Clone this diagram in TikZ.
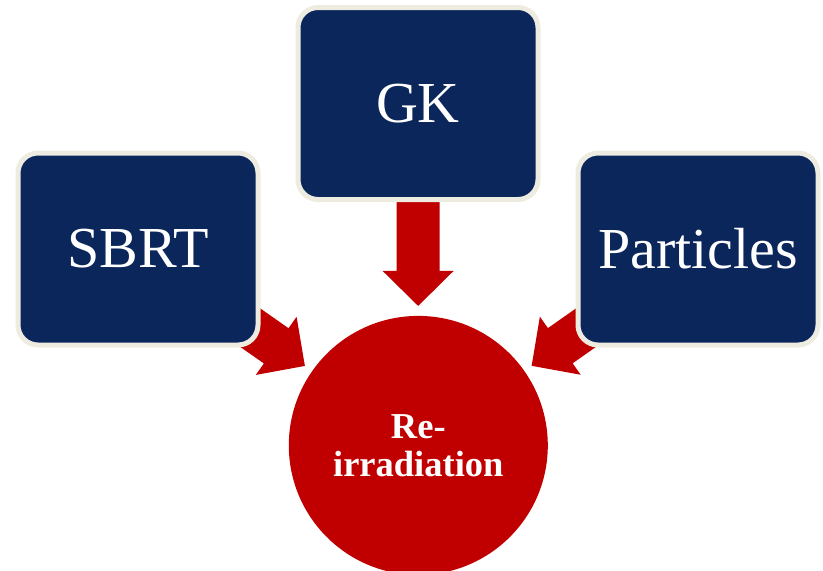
\documentclass[tikz,border=0pt]{standalone}
\usepackage{fontspec}
\setmainfont{Liberation Serif}
\usetikzlibrary{calc,backgrounds}
\definecolor{navy}{RGB}{11,38,90}
\definecolor{cream}{RGB}{238,236,225}
\definecolor{redc}{RGB}{192,0,0}
\tikzset{
  box/.style={rectangle, rounded corners=20pt, fill=navy, draw=cream, line width=5pt,
    minimum width=240pt, minimum height=192pt, text=white, inner sep=0pt,
    font=\fontsize{58}{60}\selectfont},
  hub/.style={circle, fill=redc, minimum size=259pt, inner sep=0pt, text=white,
    align=center, font=\bfseries\fontsize{36.5}{38}\selectfont},
  blockarrow/.style={fill=redc}
}
\newcommand\blockarr[2]{%
  \coordinate (hb) at ($(#2)!35pt!(#1)$);
  \fill[blockarrow] ($(#1)!21.5pt!90:(#2)$) -- ($(hb)!21.5pt!90:(#2)$)
    -- ($(hb)!35.5pt!90:(#2)$) -- (#2) -- ($(hb)!35.5pt!-90:(#2)$)
    -- ($(hb)!21.5pt!-90:(#2)$) -- ($(#1)!21.5pt!-90:(#2)$) -- cycle;
}
\begin{document}
\begin{tikzpicture}[x=1pt,y=-1pt]
\useasboundingbox (0,0) rectangle (823,571);
\node[box] (sbrt) at (138,249) {SBRT};
\node[box] (gk) at (418,103.5) {GK};
\node[box] (part) at (698,249) {Particles};
\node[hub] (hub) at (418.3,445.4) {Re-\\irradiation};
\coordinate (tl) at ($(hub.center)!138.5pt!(sbrt.center)$);
\coordinate (tt) at ($(hub.center)!139.5pt!(gk.center)$);
\coordinate (tr) at ($(hub.center)!138.5pt!(part.center)$);
\begin{pgfonlayer}{background}
\blockarr{sbrt.center}{tl}
\blockarr{gk.center}{tt}
\blockarr{part.center}{tr}
\end{pgfonlayer}
\end{tikzpicture}
\end{document}
